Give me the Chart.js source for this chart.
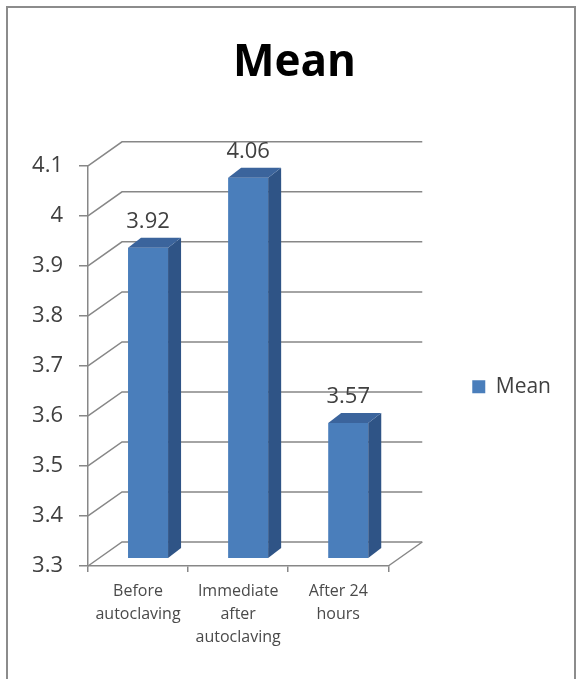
<!DOCTYPE html>
<html>
<head>
<meta charset="utf-8">
<script src="https://cdn.jsdelivr.net/npm/chart.js@4"></script>
<style>
  html, body { margin: 0; padding: 0; background: #fff; }
  #wrap { width: 580px; height: 679px; position: relative; }
</style>
</head>
<body>
<div id="wrap"><canvas id="chart"></canvas></div>
<script>
const categories = [
  ['Before', 'autoclaving'],
  ['Immediate', 'after', 'autoclaving'],
  ['After 24', 'hours']
];
const meanValues = [3.92, 4.06, 3.57];
const seriesName = 'Mean';
const yMin = 3.3, yMax = 4.1, yStep = 0.1;

// fake 3D: back wall offset, bar shift and bar depth
const WALL = { dx: 34, dy: -24 };
const SHIFT = { dx: 10, dy: -8 };
const DEPTH = { dx: 13, dy: -10 };
const gridColor = '#878787';
const textColor = '#404040';

Chart.defaults.font.family = '"Open Sans", sans-serif';

const frame3d = {
  id: 'frame3d',
  beforeDraw(chart) {
    const ctx = chart.ctx;
    ctx.save();
    ctx.strokeStyle = '#8c8c8c';
    ctx.lineWidth = 2;
    ctx.strokeRect(7, 7, 568, 700);
    ctx.restore();
  },
  beforeDatasetsDraw(chart) {
    const { ctx, chartArea: a, scales: { y } } = chart;
    ctx.save();
    ctx.strokeStyle = gridColor;
    ctx.lineWidth = 1.5;
    y.ticks.forEach(t => {
      const py = y.getPixelForValue(t.value);
      ctx.beginPath();
      ctx.moveTo(a.left, py);
      ctx.lineTo(a.left + WALL.dx, py + WALL.dy);
      ctx.lineTo(a.right + WALL.dx, py + WALL.dy);
      ctx.stroke();
    });
    // floor right edge
    ctx.beginPath();
    ctx.moveTo(a.right, a.bottom);
    ctx.lineTo(a.right + WALL.dx, a.bottom + WALL.dy);
    ctx.stroke();
    ctx.restore();

    ctx.save();
    ctx.translate(SHIFT.dx, SHIFT.dy);
  },
  afterDatasetsDraw(chart) {
    const ctx = chart.ctx;
    const meta = chart.getDatasetMeta(0);
    const base = chart.chartArea.bottom;
    meta.data.forEach(bar => {
      const l = bar.x - bar.width / 2, r = bar.x + bar.width / 2;
      const top = bar.y;
      ctx.fillStyle = '#2F5486';
      ctx.beginPath();
      ctx.moveTo(r, top);
      ctx.lineTo(r + DEPTH.dx, top + DEPTH.dy);
      ctx.lineTo(r + DEPTH.dx, base + DEPTH.dy);
      ctx.lineTo(r, base);
      ctx.closePath();
      ctx.fill();
      ctx.fillStyle = '#3B649C';
      ctx.beginPath();
      ctx.moveTo(l, top);
      ctx.lineTo(l + DEPTH.dx, top + DEPTH.dy);
      ctx.lineTo(r + DEPTH.dx, top + DEPTH.dy);
      ctx.lineTo(r, top);
      ctx.closePath();
      ctx.fill();
    });
    ctx.restore();

    ctx.save();
    ctx.fillStyle = textColor;
    ctx.font = '22px "Open Sans", sans-serif';
    ctx.textAlign = 'center';
    ctx.textBaseline = 'middle';
    meta.data.forEach((bar, i) => {
      ctx.fillText(meanValues[i].toFixed(2), bar.x + SHIFT.dx, bar.y + SHIFT.dy + DEPTH.dy - 16);
    });
    ctx.restore();
  }
};

new Chart(document.getElementById('chart'), {
  type: 'bar',
  data: {
    labels: categories,
    datasets: [{
      label: seriesName,
      data: meanValues,
      backgroundColor: '#4A7EBB',
      borderWidth: 0,
      barPercentage: 0.4,
      categoryPercentage: 1.0
    }]
  },
  options: {
    responsive: true,
    maintainAspectRatio: false,
    animation: false,
    layout: { padding: { left: 28, right: 19, top: 0, bottom: 0 } },
    plugins: {
      title: {
        display: true,
        text: 'Mean',
        color: '#000',
        font: { size: 44, weight: 'bold' },
        padding: { top: 37, bottom: 76 }
      },
      legend: {
        position: 'right',
        maxWidth: 220,
        title: { display: true, text: ' ', font: { size: 12 }, padding: { top: 40, bottom: 40 } },
        labels: {
          boxWidth: 13,
          boxHeight: 13,
          color: textColor,
          font: { size: 21 },
          padding: 10
        }
      },
      tooltip: { enabled: false }
    },
    scales: {
      x: {
        grid: { display: true, drawOnChartArea: false, offset: true, tickLength: 6, color: gridColor, lineWidth: 1.5 },
        border: { display: true, color: gridColor, width: 1.5 },
        ticks: { color: '#4a4a4a', font: { size: 16, lineHeight: 1.44 }, padding: 8, maxRotation: 0 },
        afterFit: s => { s.height = 113; }
      },
      y: {
        min: yMin,
        max: yMax,
        grid: { display: true, drawOnChartArea: false, tickLength: 9, color: gridColor, lineWidth: 1.5 },
        border: { display: true, color: gridColor, width: 1.5 },
        ticks: {
          stepSize: yStep,
          color: textColor,
          font: { size: 22 },
          padding: 16,
          callback: v => String(Math.round(v * 10) / 10)
        },
        afterFit: s => { s.width = 60; }
      },
      y2: {
        position: 'right',
        display: true,
        grid: { display: false },
        border: { display: false },
        ticks: { display: false },
        afterFit: s => { s.width = 74; }
      }
    }
  },
  plugins: [frame3d]
});
</script>
</body>
</html>
